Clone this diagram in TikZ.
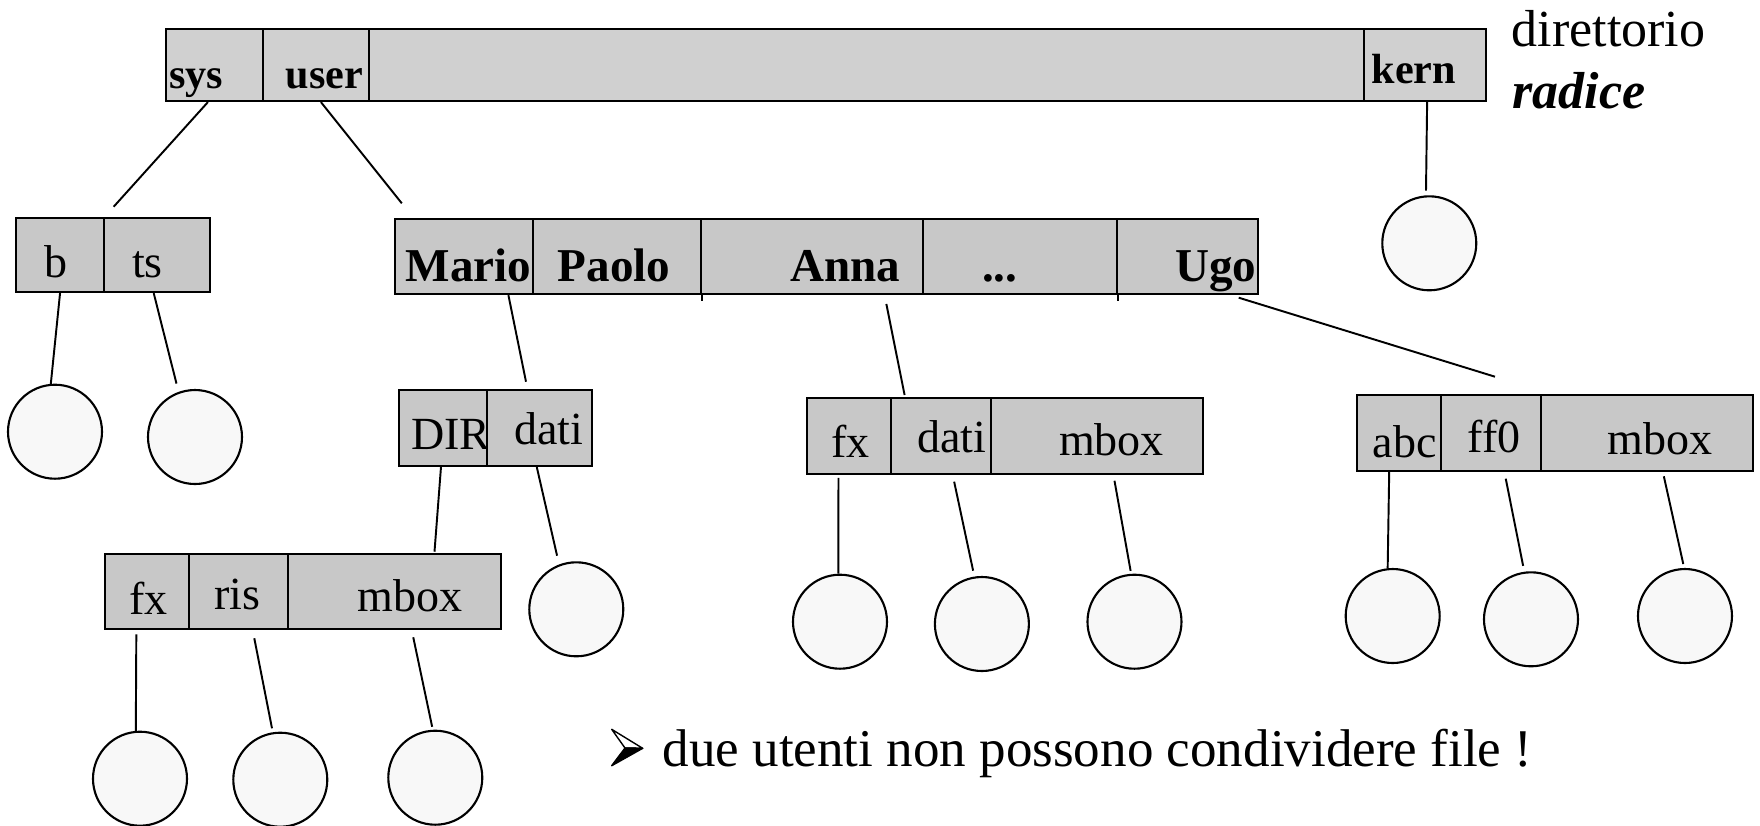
\documentclass[tikz,border=0pt]{standalone}
\usepackage{fontspec}
\setmainfont{Liberation Serif}

\definecolor{rootgray}{RGB}{208,208,208}
\definecolor{cellgray}{RGB}{200,200,200}
\definecolor{filegray}{RGB}{248,248,248}

\tikzset{
  dircell/.style={draw, fill=cellgray, line width=0.6pt, inner sep=0pt, anchor=north west, align=left, font=\fontsize{13.1}{13.1}\selectfont},
  rootcell/.style={dircell, fill=rootgray, font=\fontsize{12}{12}\selectfont\bfseries},
  usercell/.style={dircell, font=\fontsize{13.4}{13.4}\selectfont\bfseries},
  cellsize/.style n args={3}{text width=#1mm, text height=#2mm, text depth=#3mm},
  filenode/.style={circle, draw, fill=filegray, line width=0.6pt, minimum size=9.4mm, inner sep=0pt},
  link/.style={line width=0.55pt},
  rootlabel/.style={anchor=base west, inner sep=0pt, font=\fontsize{14.8}{14.8}\selectfont}
}

\begin{document}
\begin{tikzpicture}[x=1mm, y=-1mm]

  \useasboundingbox (0,0) rectangle (176,82.5);

  % directory radice
  \node[rootcell, cellsize={9.67}{5.9}{1.27}] (sys) at (16.5,2.83) {\hspace*{0.3mm}sys};
  \node[rootcell, cellsize={10.6}{5.9}{1.27}] (user) at (26.17,2.83) {\hspace*{2.3mm}user};
  \node[rootcell, cellsize={99.56}{5.9}{1.27}] (rootmid) at (36.77,2.83) {};
  \node[rootcell, cellsize={12.17}{5.44}{1.73}] (kern) at (136.33,2.83) {\hspace*{0.74mm}kern};

  \node[rootlabel] (dirname) at (151.1,4.67) {direttorio};
  \node[rootlabel] (dirradice) at (151.2,10.8) {\textbf{\textit{radice}}};

  % sys
  \node[dircell, cellsize={8.8}{6.0}{1.43}] (b) at (1.5,21.67) {\hspace*{2.8mm}b};
  \node[dircell, cellsize={10.6}{5.93}{1.5}] (ts) at (10.3,21.67) {\hspace*{2.8mm}ts};

  % user
  \node[usercell, cellsize={13.8}{6.2}{1.3}] (mario) at (39.4,21.8) {\hspace*{1.05mm}Mario};
  \node[usercell, cellsize={16.8}{6.2}{1.3}] (paolo) at (53.2,21.8) {\hspace*{2.47mm}Paolo};
  \node[usercell, cellsize={22.2}{6.2}{1.3}] (anna) at (70.0,21.8) {\hspace*{8.9mm}Anna};
  \node[usercell, cellsize={19.4}{6.2}{1.3}] (dots) at (92.2,21.8) {\hspace*{5.9mm}...};
  \node[usercell, cellsize={14.1}{6.2}{1.3}] (ugo) at (111.6,21.8) {\hspace*{5.8mm}Ugo};

  % Mario
  \node[dircell, cellsize={8.8}{5.98}{1.67}] (dir) at (39.8,38.85) {\hspace*{1.2mm}DIR};
  \node[dircell, cellsize={10.5}{5.45}{2.2}] (ddati) at (48.6,38.85) {\hspace*{2.7mm}dati};

  \node[dircell, cellsize={8.42}{6.06}{1.5}] (lfx) at (10.36,55.27) {\hspace*{2.49mm}fx};
  \node[dircell, cellsize={9.95}{5.56}{2.0}] (lris) at (18.78,55.27) {\hspace*{2.57mm}ris};
  \node[dircell, cellsize={21.23}{5.73}{1.83}] (lmbox) at (28.73,55.27) {\hspace*{6.92mm}mbox};

  % Anna
  \node[dircell, cellsize={8.38}{5.93}{1.67}] (afx) at (80.6,39.67) {\hspace*{2.45mm}fx};
  \node[dircell, cellsize={9.98}{5.5}{2.1}] (adati) at (88.98,39.67) {\hspace*{2.62mm}dati};
  \node[dircell, cellsize={21.24}{5.76}{1.84}] (ambox) at (98.96,39.67) {\hspace*{6.84mm}mbox};

  % Ugo
  \node[dircell, cellsize={8.43}{6.17}{1.4}] (uabc) at (135.57,39.43) {\hspace*{1.6mm}abc};
  \node[dircell, cellsize={10.0}{5.67}{1.9}] (uff0) at (144.0,39.43) {\hspace*{2.67mm}ff0};
  \node[dircell, cellsize={21.23}{5.9}{1.67}] (umbox) at (154.0,39.43) {\hspace*{6.67mm}mbox};

  % file
  \node[filenode] (fkern) at (142.93,24.33) {};
  \node[filenode] (fb) at (5.5,43.17) {};
  \node[filenode] (fts) at (19.5,43.7) {};
  \node[filenode] (fddati) at (57.63,60.93) {};
  \node[filenode] (flfx) at (14.0,77.87) {};
  \node[filenode] (flris) at (28.03,77.97) {};
  \node[filenode] (flmbox) at (43.53,77.77) {};
  \node[filenode] (fafx) at (84.0,62.17) {};
  \node[filenode] (fadati) at (98.19,62.4) {};
  \node[filenode] (fambox) at (113.45,62.17) {};
  \node[filenode] (fuabc) at (139.27,61.6) {};
  \node[filenode] (fuff0) at (153.1,61.93) {};
  \node[filenode] (fumbox) at (168.5,61.6) {};

  \coordinate (sysdown) at (11.37,20.67);
  \coordinate (userdown) at (40.18,20.33);
  \coordinate (mariodown) at (52.6,38.17);
  \coordinate (annadown) at (90.46,39.5);
  \coordinate (ugodown) at (149.5,37.67);
  \coordinate (dirdown) at (43.45,55.17);

  \draw[link] (sys.-100) -- (sysdown);
  \draw[link] (user.-82) -- (userdown);
  \draw[link, shorten >=0.47mm] (kern.-87) -- (fkern.94);

  \draw[link] (b.south) -- (fb.95);
  \draw[link, shorten >=0.85mm] (ts.-95) -- (fts.110);

  \draw[link] (mario.-41) -- (mariodown);
  \draw[link, shorten <=0.9mm] (anna.-28) -- (annadown);
  \draw[link, shorten <=0.87mm] (ugo.-42) -- (ugodown);
  \draw[link] (paolo.south east) -- ++(0,0.6);
  \draw[link] (dots.south east) -- ++(0,0.6);

  \draw[link] (dir.-93) -- (dirdown);
  \draw[link, shorten >=0.9mm] (ddati.-94) -- (fddati.111);

  \draw[link, shorten <=0.4mm] (lfx.-105) -- (flfx.95);
  \draw[link, shorten <=0.8mm, shorten >=0.4mm] (lris.-70) -- (flris.99);
  \draw[link, shorten <=0.7mm, shorten >=0.3mm] (lmbox.-66) -- (flmbox.93);

  \draw[link, shorten <=0.3mm] (afx.-105) -- (fafx.92);
  \draw[link, shorten <=0.7mm, shorten >=0.6mm] (adati.-73) -- (fadati.99);
  \draw[link, shorten <=0.6mm, shorten >=0.3mm] (ambox.-67) -- (fambox.94);

  \draw[link] (uabc.-104) -- (fuabc.96);
  \draw[link, shorten <=0.67mm, shorten >=0.6mm] (uff0.-71) -- (fuff0.98);
  \draw[link, shorten <=0.43mm, shorten >=0.4mm] (umbox.-68) -- (fumbox.91);

  % nota
  \filldraw[fill=white, line width=0.4pt, line join=round] (61.17,72.93) -- (64.27,74.83) -- (62.5,74.8) -- cycle;
  \filldraw[fill=black, line width=0.4pt, line join=round] (61.17,76.57) -- (64.27,74.83) -- (62.5,74.8) -- cycle;
  \node[rootlabel, font=\fontsize{15.1}{15.1}\selectfont] (note) at (66.2,76.6) {due utenti non possono condividere file !};

\end{tikzpicture}
\end{document}
